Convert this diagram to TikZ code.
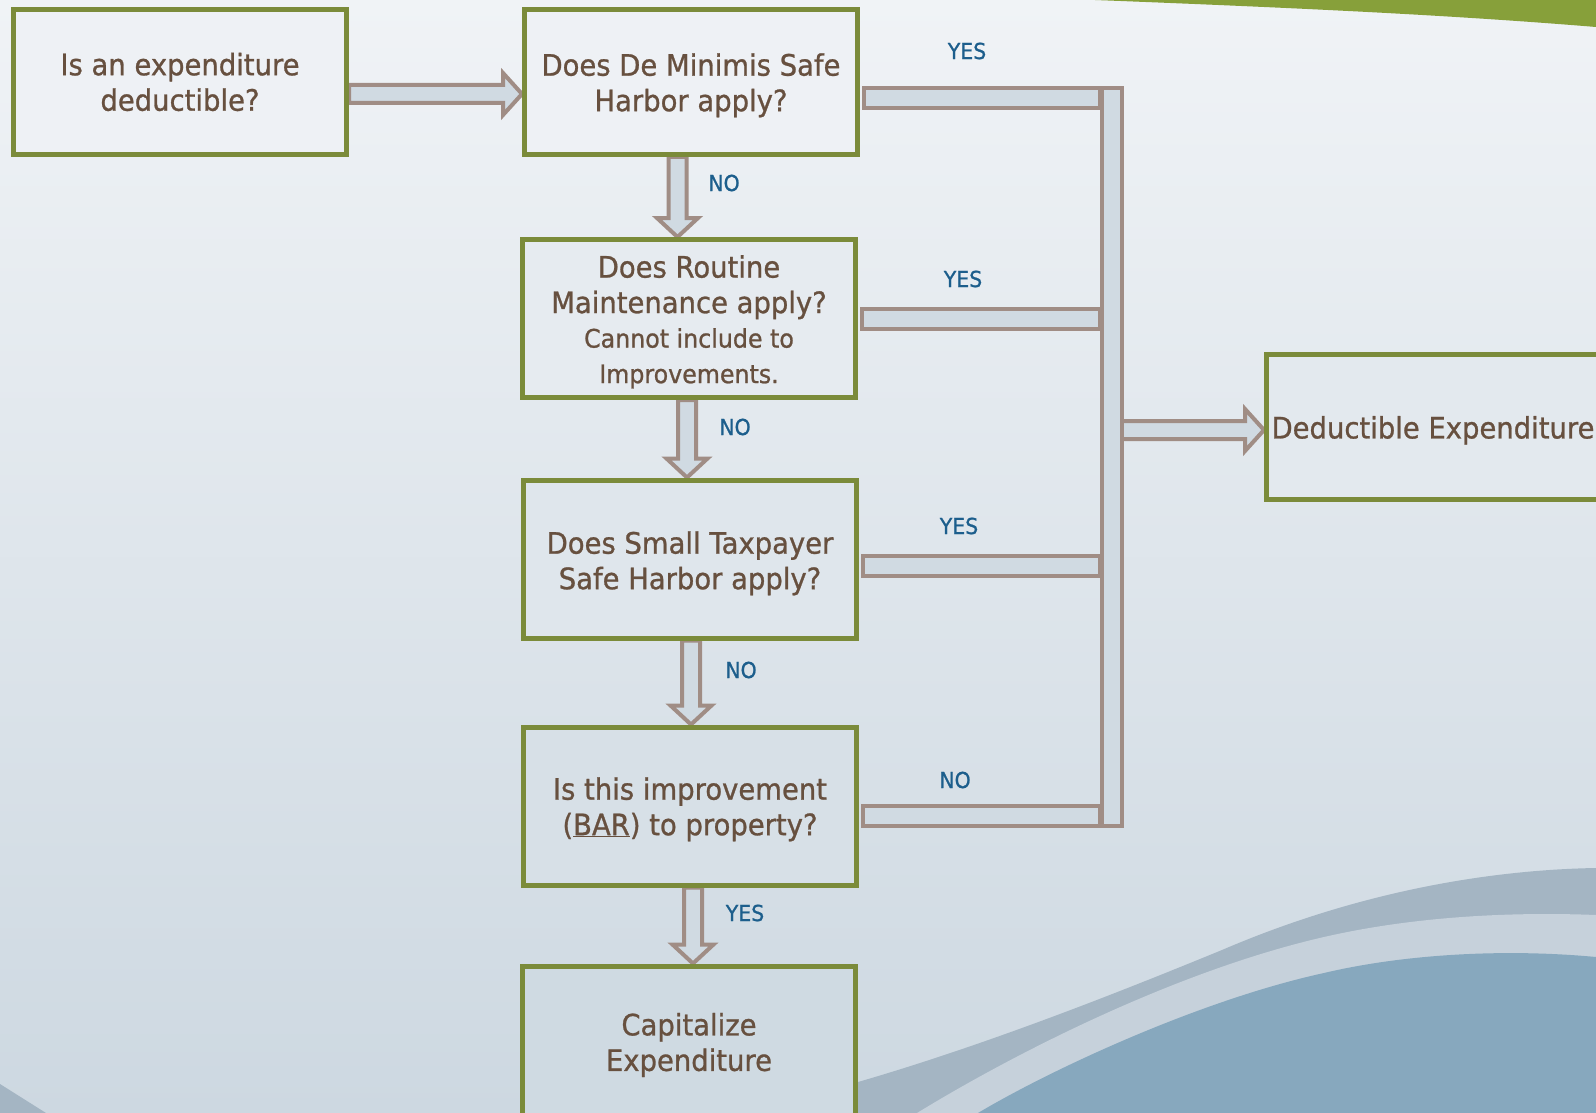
\documentclass[tikz,border=0pt]{standalone}
\usepackage{fontspec}
\setmainfont{DejaVu Sans}[FakeStretch=0.93, FakeBold=0.9]
\usetikzlibrary{calc}
\definecolor{bgtop}{HTML}{F0F3F6}
\definecolor{bgbot}{HTML}{CDD8E1}
\definecolor{boxgreen}{HTML}{7B8B3A}
\definecolor{arrline}{HTML}{A08D85}
\definecolor{arrfill}{HTML}{D0DAE2}
\definecolor{txtbrown}{HTML}{67503F}
\definecolor{lblblue}{HTML}{1C5E8C}
\definecolor{swoosh}{HTML}{87A03A}
\definecolor{waveA}{HTML}{A4B5C3}
\definecolor{waveB}{HTML}{C6D1DB}
\definecolor{waveC}{HTML}{87A8BE}
\pgfdeclarelayer{bg}
\pgfdeclarelayer{conn}
\pgfsetlayers{bg,conn,main}
\newcommand\blkright[2]{%
  \draw[blk] let \p1=(#1), \p2=(#2) in
    (\x1,\y1+9pt) -- (\x2-19pt,\y1+9pt) -- (\x2-19pt,\y1+21pt) -- (\x2,\y1)
    -- (\x2-19pt,\y1-21pt) -- (\x2-19pt,\y1-9pt) -- (\x1,\y1-9pt) -- cycle;}
\newcommand\blkdown[2]{%
  \draw[blk] let \p1=(#1), \p2=(#2) in
    (\x1-9pt,\y1) -- (\x1-9pt,\y2+19pt) -- (\x1-20.5pt,\y2+19pt) -- (\x1,\y2)
    -- (\x1+20.5pt,\y2+19pt) -- (\x1+9pt,\y2+19pt) -- (\x1+9pt,\y1) -- cycle;}
\newcommand\tdown{\rule{0pt}{29pt}}
\begin{document}
\begin{tikzpicture}[x=1pt,y=-1pt,
  qbox/.style={draw=boxgreen, line width=5pt, minimum width=333pt,
    align=center, text=txtbrown, inner sep=0pt,
    font=\fontsize{29.5}{35.5}\selectfont},
  blk/.style={draw=arrline, fill=arrfill, line width=4pt, line join=miter},
  lbl/.style={text=lblblue, font=\fontsize{22}{26}\selectfont, inner sep=0pt}]
\useasboundingbox (0,0) rectangle (1596,1113);
\clip (0,0) rectangle (1596,1113);

% nodes
\node[qbox, minimum height=145pt, fill=bgbot!7!bgtop] (q0) at (180,82) {Is an expenditure\\deductible?};
\node[qbox, minimum height=145pt, fill=bgbot!7!bgtop] (q1) at (691,82) {\tdown Does De Minimis Safe\\Harbor apply?};
\node[qbox, minimum height=158pt, fill=bgbot!29!bgtop] (q2) at (689,318.5) {\tdown Does Routine\\Maintenance apply?\\[-1pt]{\fontsize{25.5}{34}\selectfont Cannot include to}\\{\fontsize{25.5}{34}\selectfont Improvements.}};
\node[qbox, minimum height=158pt, fill=bgbot!50!bgtop] (q3) at (690,559) {\rule{0pt}{31pt}Does Small Taxpayer\\Safe Harbor apply?};
\node[qbox, minimum height=158pt, fill=bgbot!72!bgtop] (q4) at (690,806) {\tdown Is this improvement\\(\underline{BAR}) to property?};
\node[qbox, minimum height=158pt, fill=bgbot!94!bgtop] (q5) at (689,1045) {Capitalize\\Expenditure};
\node[qbox, minimum height=145pt, fill=bgbot!38!bgtop] (q6) at (1433,427) {\tdown Deductible Expenditure};

% labels
\node[lbl] (y1) at (967,51) {YES};
\node[lbl] (y2) at (963,279) {YES};
\node[lbl] (y3) at (959,526) {YES};
\node[lbl] (n4) at (955,780) {NO};
\node[lbl] (n1) at (724,183) {NO};
\node[lbl] (n2) at (735,427) {NO};
\node[lbl] (n3) at (741,670) {NO};
\node[lbl] (y4) at (745,913) {YES};

% background
\begin{pgfonlayer}{bg}
\shade[top color=bgtop, bottom color=bgbot] (0,0) rectangle (1596,1113);
\fill[swoosh] (1095,0) .. controls (1300,8) and (1450,15) .. (1596,27) -- (1596,0) -- cycle;
\fill[waveA] (733,1113) .. controls (900,1080) and (1100,1000) .. (1222,950)
  .. controls (1350,895) and (1480,870) .. (1596,868) -- (1596,1113) -- cycle;
\fill[waveB] (917,1113) .. controls (1020,1050) and (1180,970) .. (1324,937)
  .. controls (1420,915) and (1520,912) .. (1596,915) -- (1596,1113) -- cycle;
\fill[waveC] (978,1113) .. controls (1050,1070) and (1200,1000) .. (1324,973)
  .. controls (1400,955) and (1500,948) .. (1596,957) -- (1596,1113) -- cycle;
\fill[waveA] (0,1084) -- (46,1113) -- (0,1113) -- cycle;
\end{pgfonlayer}

% connectors
\begin{pgfonlayer}{conn}
\coordinate (a0s) at ($(q0.east)+(0,12)$);
\coordinate (a0t) at ($(q1.west)+(0,12)$);
\blkright{a0s}{a0t}
\coordinate (d1s) at ($(q1.south)+(-13.5,0)$);
\coordinate (d1t) at (d1s |- q2.north);
\blkdown{d1s}{d1t}
\coordinate (d2s) at ($(q2.south)+(-2,0)$);
\coordinate (d2t) at (d2s |- q3.north);
\blkdown{d2s}{d2t}
\coordinate (d3s) at ($(q3.south)+(1,0)$);
\coordinate (d3t) at (d3s |- q4.north);
\blkdown{d3s}{d3t}
\coordinate (d4s) at ($(q4.south)+(3,0)$);
\coordinate (d4t) at (d4s |- q5.north);
\blkdown{d4s}{d4t}
% collector bar
\coordinate (vbtop) at (1112,88);
\coordinate (vbbot) at (1112,826);
\coordinate (h1) at ($(q1.east)+(0,16)$);
\coordinate (h2) at ($(q2.east)+(0,0.5)$);
\coordinate (h3) at ($(q3.east)+(0,7)$);
\coordinate (h4) at ($(q4.east)+(0,10)$);
\foreach \h in {h1,h2,h3,h4}{
  \draw[blk] ($(\h)+(4,-10)$) rectangle ($(\h -| vbtop)+(-12,10)$);
}
\coordinate (rs) at (1120,430);
\coordinate (rt) at (rs -| q6.west);
\blkright{rs}{rt}
\draw[blk] ($(vbtop)+(-10,0)$) rectangle ($(vbbot)+(10,0)$);
\end{pgfonlayer}
\end{tikzpicture}
\end{document}
